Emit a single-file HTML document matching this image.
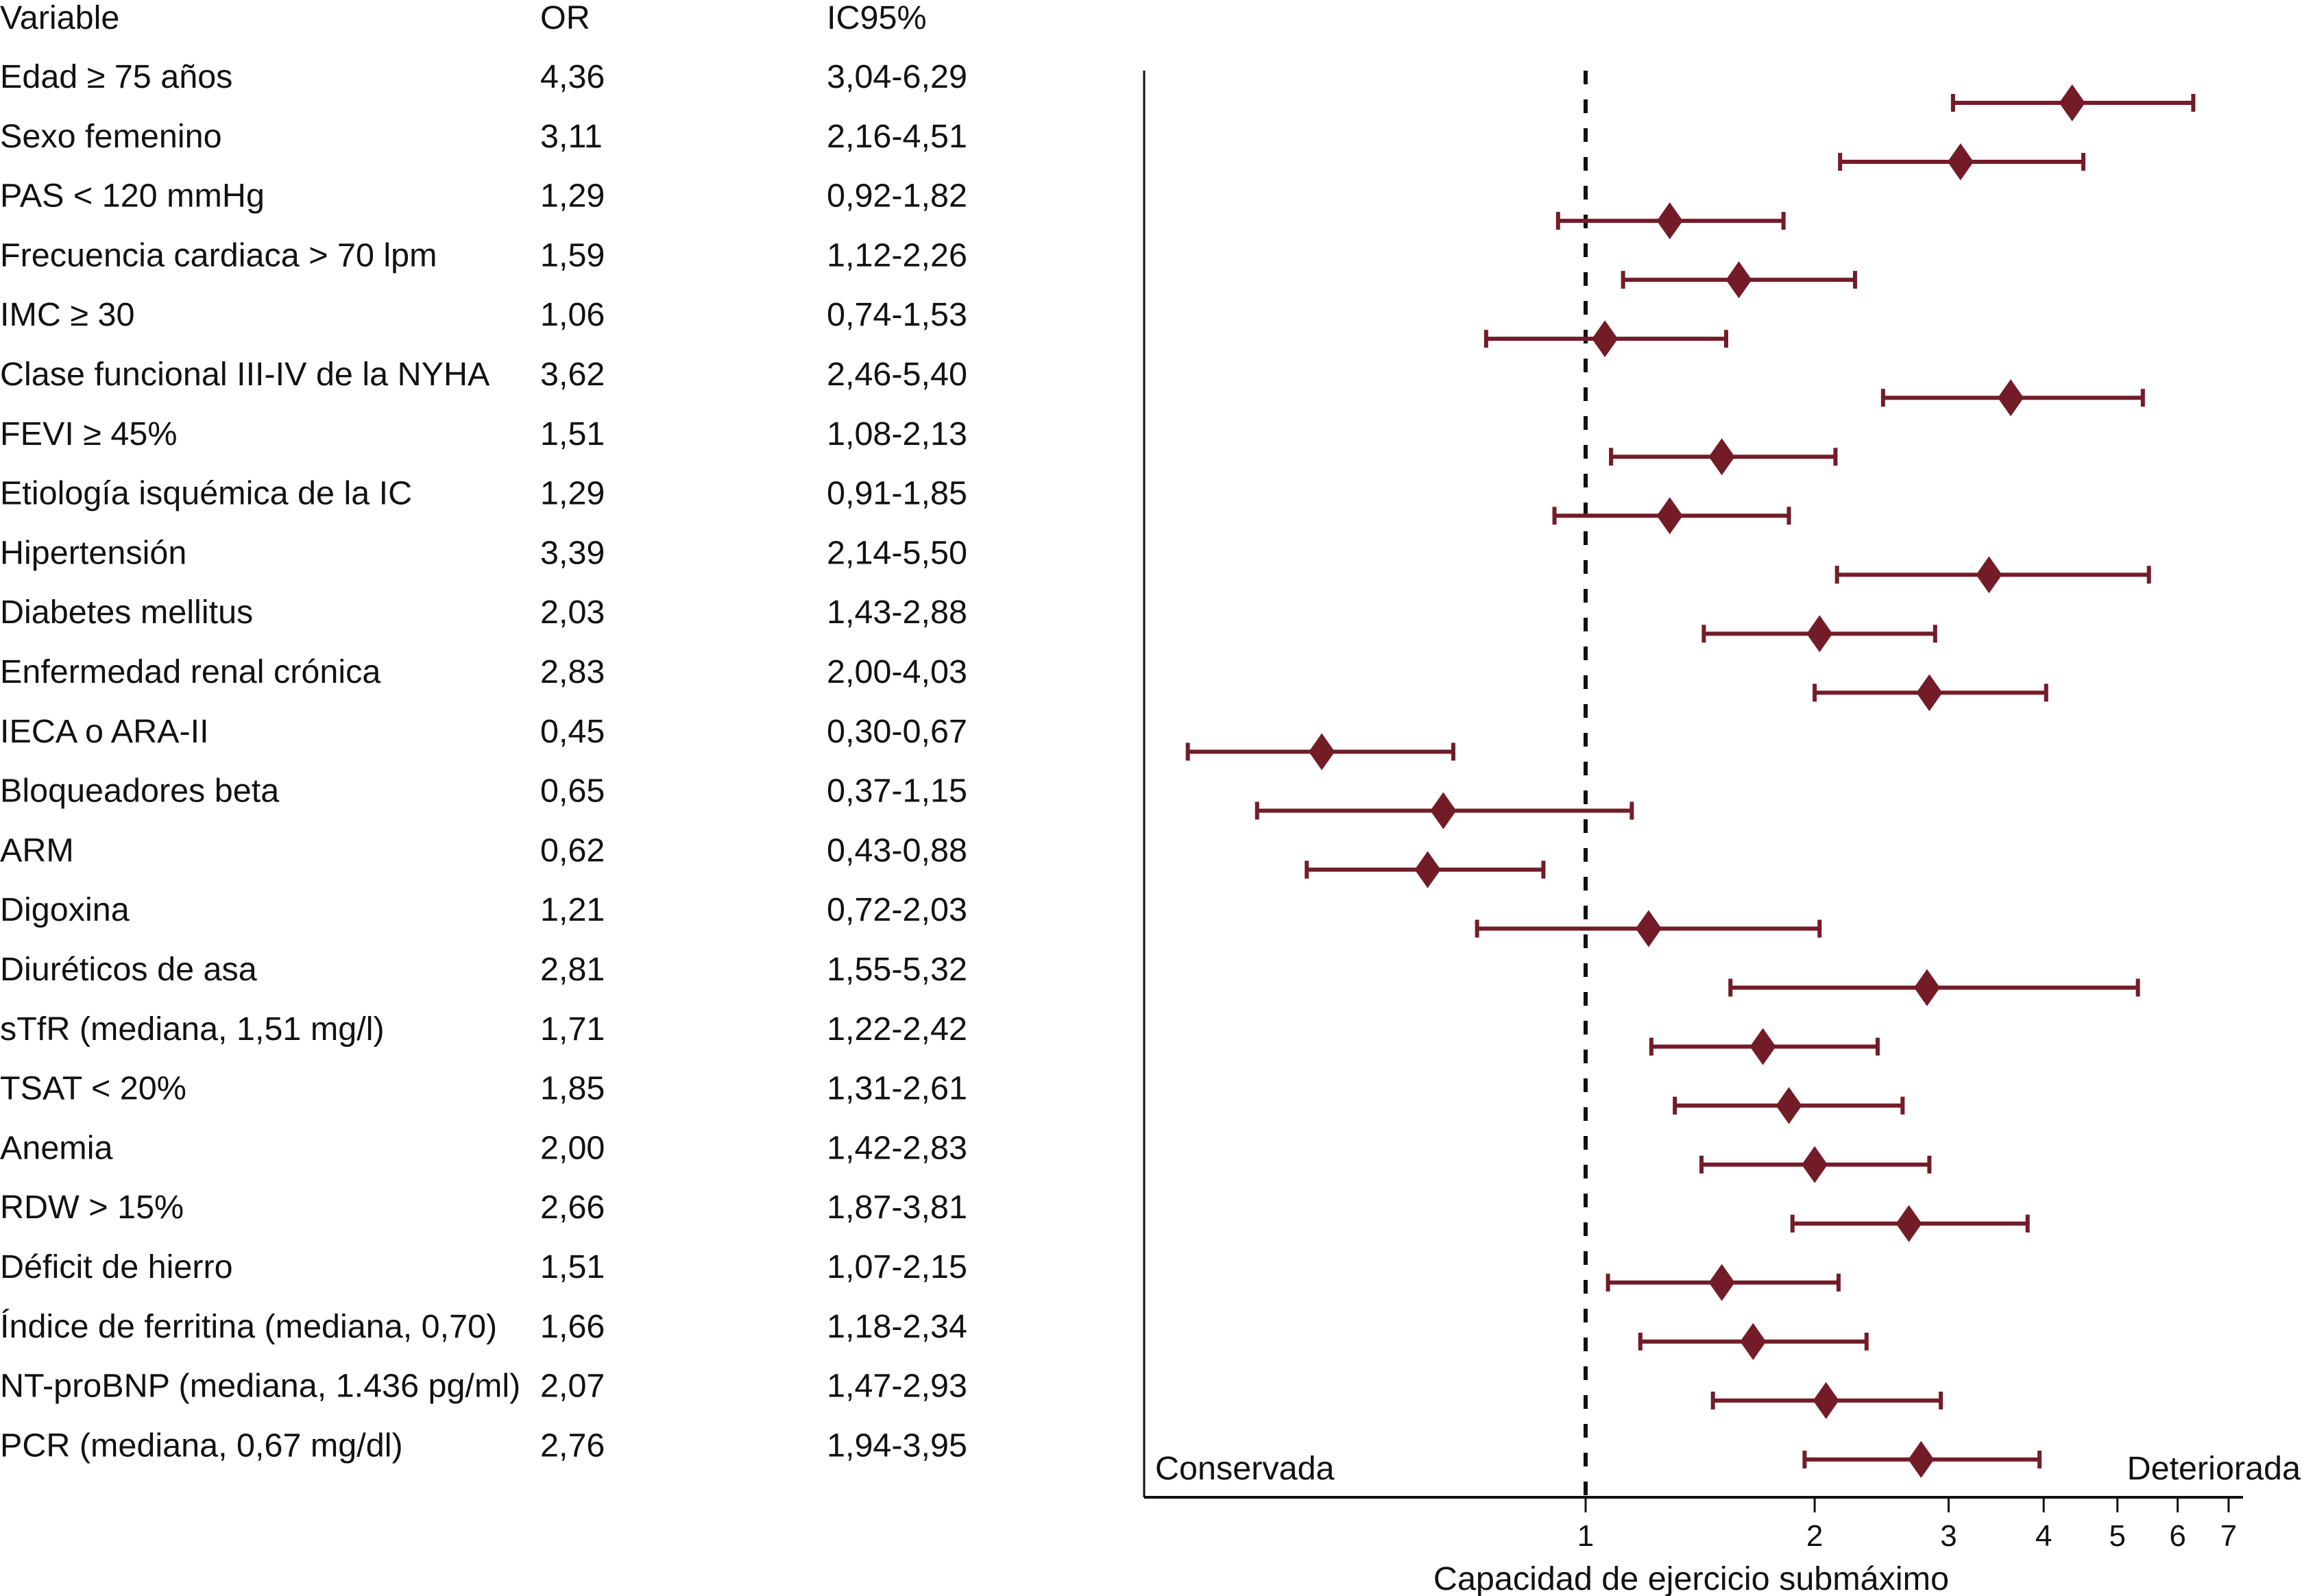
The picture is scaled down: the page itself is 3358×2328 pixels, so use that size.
<!DOCTYPE html>
<html><head><meta charset="utf-8"><style>
html,body{margin:0;padding:0;background:#fff;}
svg{display:block;}
text{font-family:"Liberation Sans",sans-serif;fill:#111;}
</style></head><body>
<svg id="chart" width="3358" height="2328" viewBox="0 0 3358 2328">
<g id="table">
<text x="0" y="42" font-size="48.5">Variable</text>
<text x="788" y="42" font-size="48.5">OR</text>
<text x="1206" y="42" font-size="48.5">IC95%</text>
</g>
<g id="plot">
<line x1="1669" y1="103" x2="1669" y2="2184" stroke="#111" stroke-width="3"/>
<line x1="1669" y1="2184" x2="3272" y2="2184" stroke="#111" stroke-width="4"/>
<text x="1685" y="2158" font-size="48.5">Conservada</text>
<text x="3356" y="2158" font-size="48.5" text-anchor="end">Deteriorada</text>
<text x="2467" y="2319" font-size="48.5" text-anchor="middle">Capacidad de ejercicio submáximo</text>
</g>
</svg>
<script>
const variables = ["Edad ≥ 75 años","Sexo femenino","PAS < 120 mmHg","Frecuencia cardiaca > 70 lpm","IMC ≥ 30","Clase funcional III-IV de la NYHA","FEVI ≥ 45%","Etiología isquémica de la IC","Hipertensión","Diabetes mellitus","Enfermedad renal crónica","IECA o ARA-II","Bloqueadores beta","ARM","Digoxina","Diuréticos de asa","sTfR (mediana, 1,51 mg/l)","TSAT < 20%","Anemia","RDW > 15%","Déficit de hierro","Índice de ferritina (mediana, 0,70)","NT-proBNP (mediana, 1.436 pg/ml)","PCR (mediana, 0,67 mg/dl)"];
const orValues = [4.36,3.11,1.29,1.59,1.06,3.62,1.51,1.29,3.39,2.03,2.83,0.45,0.65,0.62,1.21,2.81,1.71,1.85,2.00,2.66,1.51,1.66,2.07,2.76];
const lowerCI = [3.04,2.16,0.92,1.12,0.74,2.46,1.08,0.91,2.14,1.43,2.00,0.30,0.37,0.43,0.72,1.55,1.22,1.31,1.42,1.87,1.07,1.18,1.47,1.94];
const upperCI = [6.29,4.51,1.82,2.26,1.53,5.40,2.13,1.85,5.50,2.88,4.03,0.67,1.15,0.88,2.03,5.32,2.42,2.61,2.83,3.81,2.15,2.34,2.93,3.95];
const xTicks = [1,2,3,4,5,6,7];

const NS = "http://www.w3.org/2000/svg";
const table = document.getElementById('table');
const plot = document.getElementById('plot');
const xScale = v => 2313 + 482 * Math.log(v);
const rowText = i => 128 + 86.8 * i;
const rowMark = i => 150 + 86.04 * i;
const fmt = v => v.toFixed(2).replace('.', ',');
const col = '#731c28';
function mk(tag, attrs, parent){const e=document.createElementNS(NS,tag);for(const k in attrs)e.setAttribute(k,attrs[k]);parent.appendChild(e);return e;}

variables.forEach((v,i)=>{
  let t = mk('text',{x:0,y:rowText(i),'font-size':48.5},table);
  t.textContent = v;
  
  
  let o = mk('text',{x:788,y:rowText(i),'font-size':48.5},table);
  o.textContent = fmt(orValues[i]);
  
  
  let c = mk('text',{x:1206,y:rowText(i),'font-size':48.5},table);
  c.textContent = fmt(lowerCI[i]) + '-' + fmt(upperCI[i]);
  
  
});

let ref = mk('line',{x1:xScale(1),y1:103,x2:xScale(1),y2:2184,stroke:'#111','stroke-width':6,'stroke-dasharray':'20 22'},plot);



xTicks.forEach(t=>{
  const x = xScale(t);
  let tk = mk('line',{x1:x,y1:2184,x2:x,y2:2206,stroke:'#111','stroke-width':3},plot);
  
  
  let lb = mk('text',{x:x,y:2255,'font-size':44,'text-anchor':'middle'},plot);
  lb.textContent = String(t);
  
  
});

orValues.forEach((v,i)=>{
  const y = rowMark(i), x0 = xScale(lowerCI[i]), x1 = xScale(upperCI[i]), xc = xScale(v);
  const g = mk('g',{},plot);
  
  
  let l = mk('line',{x1:x0,y1:y,x2:x1,y2:y,stroke:col,'stroke-width':6},g);
  
  
  [x0,x1].forEach(xx=>{
    let c = mk('line',{x1:xx,y1:y-13,x2:xx,y2:y+13,stroke:col,'stroke-width':6},g);
    
    
  });
  let d = mk('polygon',{points:`${xc},${y-27} ${xc+19},${y} ${xc},${y+27} ${xc-19},${y}`,fill:col},g);
  
  
});
</script>
</body></html>
